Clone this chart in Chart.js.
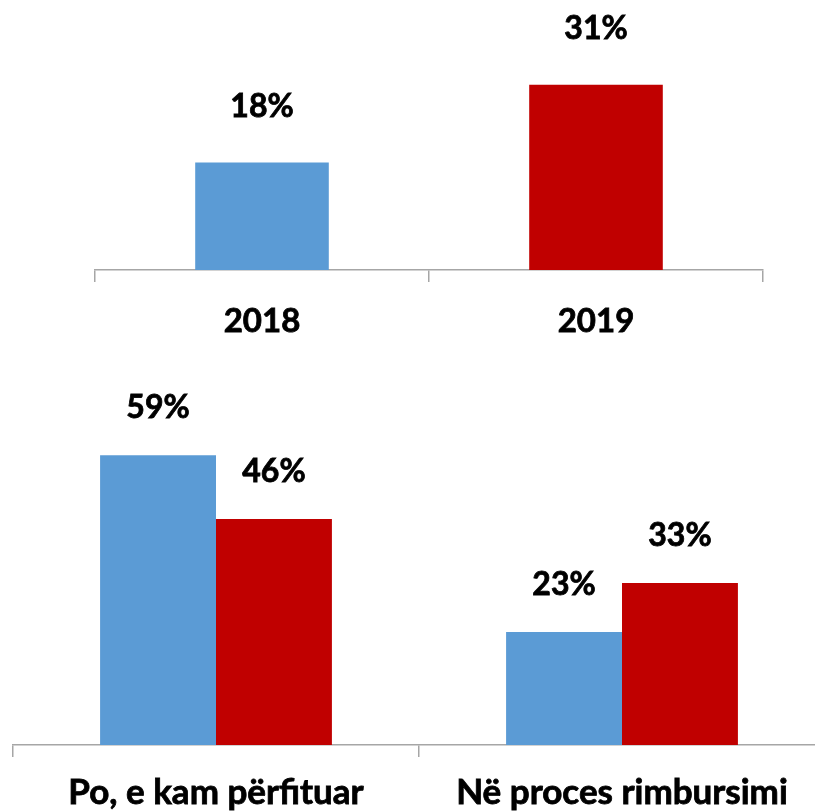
<!DOCTYPE html>
<html>
<head>
<meta charset="utf-8">
<script src="https://cdn.jsdelivr.net/npm/chart.js@4"></script>
<style>
  html, body { margin: 0; padding: 0; background: #ffffff; overflow: hidden; width: 815px; height: 811px; }
  canvas { position: absolute; }
  #top { left: 93px; top: 0px; }
  #bottom { left: 11px; top: 340px; }
</style>
</head>
<body>
<canvas id="top" width="672" height="345"></canvas>
<canvas id="bottom" width="816" height="471"></canvas>
<script>
// ---- data ----
const topYears = ['2018', '2019'];
const topValues = [18, 31];

const bottomCategories = ['Po, e kam përfituar', 'Në proces rimbursimi'];
const series2018 = [59, 23];
const series2019 = [46, 33];
const seriesNames = ['2018', '2019'];

// ---- styles ----
const BLUE = '#5b9bd5';
const RED = '#c00000';
const AXIS = '#a6a6a6';
const FONT = 'Lato';

function valueLabels(offset) {
  return {
    id: 'valueLabels',
    afterDatasetsDraw(chart) {
      const ctx = chart.ctx;
      ctx.save();
      ctx.font = 'bold 32px ' + FONT;
      ctx.fillStyle = '#000000';
      ctx.strokeStyle = '#000000';
      ctx.lineWidth = 0.8;
      ctx.textAlign = 'center';
      ctx.textBaseline = 'middle';
      chart.data.datasets.forEach((ds, i) => {
        chart.getDatasetMeta(i).data.forEach((el, j) => {
          const t = ds.data[j] + '%';
          ctx.fillText(t, el.x, el.y - offset);
          ctx.strokeText(t, el.x, el.y - offset);
        });
      });
      ctx.restore();
    }
  };
}

function xScale(axisHeight, pad, size) {
  return {
    grid: { display: true, drawOnChartArea: false, drawTicks: true, tickLength: 12, color: AXIS, lineWidth: 1.5, offset: true },
    border: { display: true, color: AXIS, width: 1.5 },
    ticks: { color: '#000000', font: { family: FONT, size: size, weight: 'bold' }, padding: pad, maxRotation: 0, autoSkip: false,
             textStrokeColor: '#000000', textStrokeWidth: 0.8 },
    afterFit(s) { s.height = axisHeight; }
  };
}

new Chart(document.getElementById('top'), {
  type: 'bar',
  data: {
    labels: topYears,
    datasets: [{ data: topValues, backgroundColor: [BLUE, RED], borderWidth: 0 }]
  },
  options: {
    responsive: false,
    devicePixelRatio: 1,
    animation: false,
    layout: { padding: { left: 2, right: 2, top: 0, bottom: 0 } },
    plugins: { legend: { display: false }, tooltip: { enabled: false } },
    datasets: { bar: { categoryPercentage: 0.4, barPercentage: 1.0 } },
    scales: {
      x: xScale(75, 20, 33),
      y: { display: false, min: 0, max: 45.2 }
    }
  },
  plugins: [valueLabels(56)]
});

new Chart(document.getElementById('bottom'), {
  type: 'bar',
  data: {
    labels: bottomCategories,
    datasets: [
      { label: seriesNames[0], data: series2018, backgroundColor: BLUE, borderWidth: 0 },
      { label: seriesNames[1], data: series2019, backgroundColor: RED, borderWidth: 0 }
    ]
  },
  options: {
    responsive: false,
    devicePixelRatio: 1,
    animation: false,
    layout: { padding: { left: 2, right: 2, top: 12, bottom: 0 } },
    plugins: { legend: { display: false }, tooltip: { enabled: false } },
    datasets: { bar: { categoryPercentage: 0.571, barPercentage: 1.0 } },
    scales: {
      x: xScale(66, 15, 35),
      y: { display: false, min: 0, max: 80 }
    }
  },
  plugins: [valueLabels(47)]
});
</script>
</body>
</html>
